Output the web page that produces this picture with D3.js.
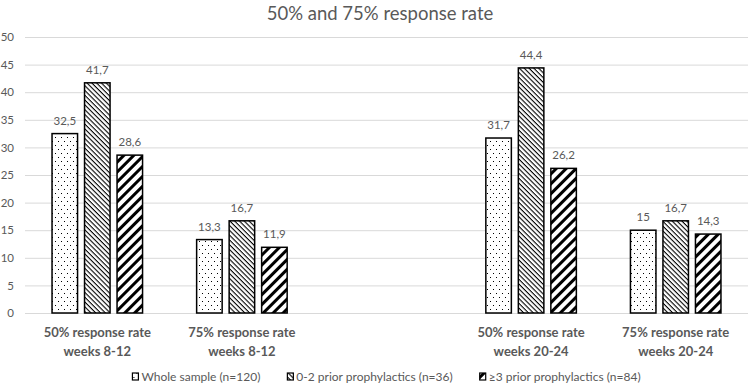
<!DOCTYPE html>
<html><head><meta charset="utf-8">
<script src="https://cdn.jsdelivr.net/npm/d3@7"></script>
<style>body{margin:0;background:#fff}svg{display:block}text{font-family:Lato,"Open Sans",sans-serif;fill:#595959}</style>
</head><body><svg id="c" width="751" height="387"></svg>
<script>
const categories = ["50% response rate|weeks 8-12", "75% response rate|weeks 8-12", "", "50% response rate|weeks 20-24", "75% response rate|weeks 20-24"];
const seriesNames = ["Whole sample (n=120)", "0-2 prior prophylactics (n=36)", "≥3 prior prophylactics (n=84)"];
const wholeSample = [32.5, 13.3, null, 31.7, 15];
const prior02 = [41.7, 16.7, null, 44.4, 16.7];
const prior3plus = [28.6, 11.9, null, 26.2, 14.3];
const yTicks = [0, 5, 10, 15, 20, 25, 30, 35, 40, 45, 50];
const valueLabels = [["32,5","13,3","","31,7","15"],["41,7","16,7","","44,4","16,7"],["28,6","11,9","","26,2","14,3"]];
const series = [wholeSample, prior02, prior3plus];

(function(){
const svg = d3.select("#c");
const defs = svg.append("defs");
const p0 = defs.append("pattern").attr("id","pat0").attr("patternUnits","userSpaceOnUse").attr("width",6).attr("height",8);
p0.append("rect").attr("width",6).attr("height",8).attr("fill","#fff");
p0.append("rect").attr("x",1).attr("y",1).attr("width",1).attr("height",1).attr("fill","#000");
p0.append("rect").attr("x",4).attr("y",5).attr("width",1).attr("height",1).attr("fill","#000");
const p1 = defs.append("pattern").attr("id","pat1").attr("patternUnits","userSpaceOnUse").attr("width",3.4).attr("height",3.4).attr("patternTransform","rotate(45)");
p1.append("rect").attr("width",3.4).attr("height",3.4).attr("fill","#fff");
p1.append("rect").attr("width",3.4).attr("height",1.1).attr("fill","#000");
const p2 = defs.append("pattern").attr("id","pat2").attr("patternUnits","userSpaceOnUse").attr("width",7).attr("height",7).attr("patternTransform","rotate(-45)");
p2.append("rect").attr("width",7).attr("height",7).attr("fill","#fff");
p2.append("rect").attr("width",7).attr("height",3).attr("fill","#000");
const fills = ["url(#pat0)","url(#pat1)","url(#pat2)"];

const mLeft = 25, mRight = 748, mTop = 37, mBottom = 313;
const y = d3.scaleLinear().domain([0,50]).range([mBottom, mTop]);
const x0 = d3.scaleBand().domain(d3.range(categories.length)).range([mLeft,mRight]).paddingInner(0.374).paddingOuter(0.187);
const x1 = d3.scaleBand().domain(d3.range(series.length)).range([0, x0.bandwidth()]).paddingInner(0.215).paddingOuter(0);

const title = svg.append("text").attr("x",380).attr("y",20).attr("text-anchor","middle").style("font-size","18.5px").text("50% and 75% response rate");
const tw = title.node().getComputedTextLength();
const target = 220;
if (tw < target) title.style("letter-spacing", ((target - tw) / 24).toFixed(2) + "px");

const yAxis = d3.axisLeft(y).tickValues(yTicks).tickSize(-(mRight-mLeft)).tickPadding(11);
const ga = svg.append("g").attr("transform",`translate(${mLeft},0)`).call(yAxis);
ga.select(".domain").remove();
ga.selectAll(".tick line").attr("stroke","#d9d9d9").attr("stroke-width",1);
ga.selectAll(".tick text").style("font-size","11.5px").style("fill","#595959").attr("font-family","Lato");

series.forEach((vals, si) => {
  const g = svg.append("g");
  vals.forEach((v, ci) => {
    if (v == null) return;
    const bx = x0(ci) + x1(si);
    g.append("rect").attr("x", bx).attr("y", y(v)).attr("width", x1.bandwidth()).attr("height", y(0)-y(v))
      .attr("fill", fills[si]).attr("stroke","#000").attr("stroke-width",1.5);
    g.append("text").attr("x", bx + x1.bandwidth()/2).attr("y", y(v)-9).attr("text-anchor","middle")
      .style("font-size","11.5px").text(valueLabels[si][ci]);
  });
});

categories.forEach((c, ci) => {
  if (!c) return;
  const lines = c.split("|");
  const cx = x0(ci) + x0.bandwidth()/2;
  lines.forEach((ln, li) => {
    svg.append("text").attr("x", cx).attr("y", 337 + li*19).attr("text-anchor","middle")
      .style("font-size","13px").style("font-weight","bold").text(ln);
  });
});

const leg = svg.append("g");
let lx = 0;
seriesNames.forEach((n, i) => {
  leg.append("rect").attr("x", lx).attr("y", 373).attr("width",6).attr("height",7)
    .attr("fill", fills[i]).attr("stroke","#000").attr("stroke-width",1.2);
  const t = leg.append("text").attr("x", lx+9).attr("y", 381).style("font-size","12px").text(n);
  lx += 9 + t.node().getComputedTextLength() + 27;
});
const legW = lx - 27;
leg.attr("transform", `translate(${(mLeft+mRight)/2 - legW/2},0)`);
})();
</script></body></html>
